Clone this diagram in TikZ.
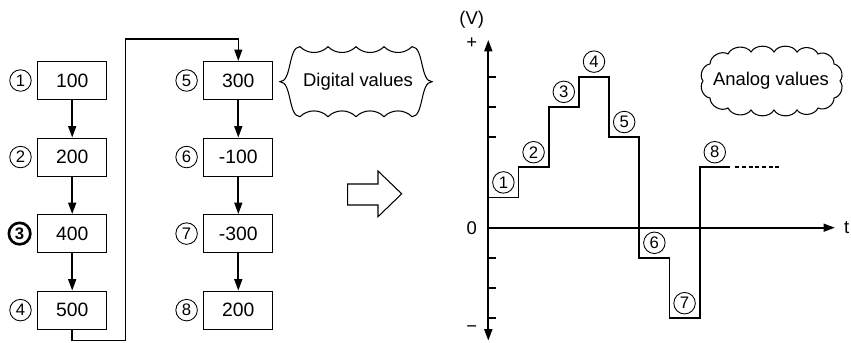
\documentclass[tikz,border=0pt]{standalone}
\usepackage{fontspec}
\setmainfont{Liberation Sans}
\usetikzlibrary{arrows.meta,positioning}

\begin{document}
\begin{tikzpicture}[x=0.02cm,y=-0.02cm,
  font=\fontsize{10.5}{12}\selectfont,
  val/.style={draw, line width=0.6pt, minimum width=1.38cm,
    minimum height=0.76cm, inner sep=0pt, font=\fontsize{11}{13}\selectfont},
  num/.style={circle, draw, line width=0.5pt, minimum size=0.43cm,
    inner sep=0pt, font=\fontsize{9.5}{11}\selectfont},
  tip/.style={-{Triangle[length=6.5pt,width=4.5pt]}},
  flow/.style={tip, line width=1pt},
  node distance=0.75cm]
  \useasboundingbox (0,0) rectangle (851,342);
  % digital values, two columns
  \node[val] (v1) at (72.2,80.5) {100};
  \node[val, below=of v1] (v2) {200};
  \node[val, below=of v2] (v3) {400};
  \node[val, below=of v3] (v4) {500};
  \node[val] (v5) at (238.3,80.5) {300};
  \node[val, below=of v5] (v6) {-100};
  \node[val, below=of v6] (v7) {-300};
  \node[val, below=of v7] (v8) {200};
  \foreach \i in {1,2,4,5,6,7,8}
    \node[num, left=0.11cm of v\i] (n\i) {\i};
  \node[num, line width=1.5pt, font=\fontsize{9.5}{11}\selectfont\bfseries,
    left=0.11cm of v3] (n3) {3};
  \foreach \i/\j in {1/2,2/3,3/4,5/6,6/7,7/8}
    \draw[flow] (v\i) -- (v\j);
  \coordinate (lo) at (125.3,340.7);
  \coordinate (hi) at (125.3,39);
  \draw[tip, line width=0.8pt] (v4.south) |- (lo) -- (hi) -| (v5.north);
  % label shapes
  \node (dig) at (358,81.7) {Digital values};
  \draw[line width=0.6pt] (300,46.7)
    \foreach \k in {1,...,4} {to[bend right=45] ++(28,0)}
    .. controls (424,46.7) and (420,81.7) .. (432,81.7)
    .. controls (420,81.7) and (424,116.7) .. (412,116.7)
    \foreach \k in {1,...,4} {to[bend right=45] ++(-28,0)}
    .. controls (288,116.7) and (292,81.7) .. (280,81.7)
    .. controls (292,81.7) and (288,46.7) .. (300,46.7) -- cycle;
  \node (ana) at (771,81) {Analog values};
  \draw[line width=0.6pt] (710,64)
    \foreach \px/\py in {728/54,751/52,774/52,797/52,818/54,834/64,
      840/81,834/98,818/108,797/110,774/110,751/110,728/108,
      710/98,703/81,710/64} {to[bend left=60] (\px,\py)};
  \draw[line width=0.6pt] (347.7,184) -- (378,184) -- (378,171) -- (401.7,193.8)
    -- (378,216.7) -- (378,205) -- (347.7,205) -- cycle;
  % analog output
  \begin{scope}[shift={(488.3,227.7)}, x=0.604cm, y=0.604cm]
    \draw[line width=1.1pt, {Triangle[length=6.5pt,width=4.5pt]}-{Triangle[length=6.5pt,width=4.5pt]}]
      (0,-3.74) -- (0,6.22);
    \draw[line width=1.1pt, tip] (0,0) -- (11.48,0);
    \foreach \y in {5,4,3,-1,-2,-3}
      \draw[line width=1pt] (0,\y) -- (0.265,\y);
    \node (unit) at (-0.55,6.88) {(V)};
    \node (plus) at (-0.55,6.1) {+};
    \node (zero) at (-0.55,0) {0};
    \node (minus) at (-0.55,-3.35) {−};
    \node (t) at (11.87,0) {t};
    \draw[line width=1.1pt] (0,1) -| (1,2) -| (2,4) -| (3,5) -| (4,3)
      -| (5,-1) -| (6,-3) -| (7,2) -- (8,2);
    \draw[line width=1.1pt, dash pattern=on 2.3pt off 1.5pt] (8.18,2) -- (9.72,2);
    \foreach \v [count=\i] in {1,2,4,5,3,-1,-3,2}
      \node[num] (s\i) at (\i-0.5,\v+0.5) {\i};
  \end{scope}
\end{tikzpicture}
\end{document}
